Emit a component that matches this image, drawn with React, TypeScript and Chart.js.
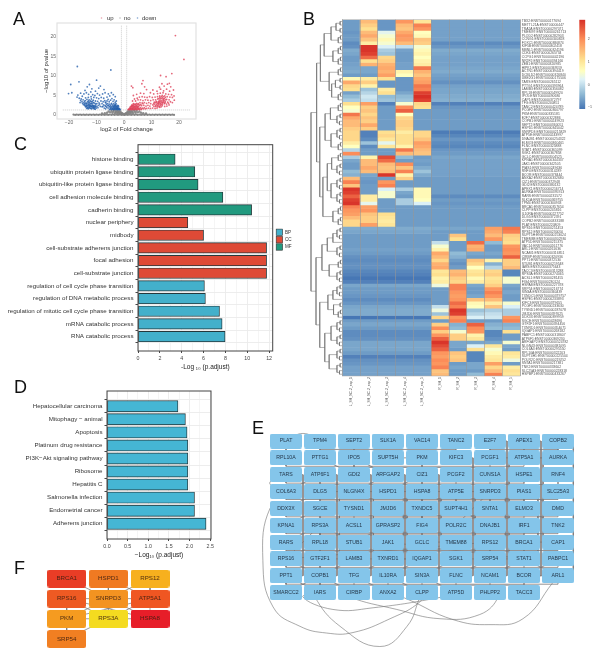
import React, { useEffect, useRef } from "react";
import { Chart, registerables } from "chart.js";

Chart.register(...registerables);

const W = 606;
const H = 669;
const SANS = "'Liberation Sans', Arial, sans-serif";

// ---------- Panel A: volcano ----------
const volcanoDown = [[-17,12.4],[-4.8,11.5],[-10,8.9],[-16.4,8.5],[-19.4,7.8],[-20.2,5.5],[-19,5.7],[-12.6,7.8],[-13.4,7.2],[-8.6,7.4],[-9.2,6.9],[-11.7,6.7],[-14.2,6.3],[-7.3,6.5],[-10.4,6.1],[-16.8,5.1],[-15.8,5.6],[-17.1,4.6],[-16.3,4.3],[-15.2,4.8],[-14.6,5.4],[-13.7,5.7],[-12.9,5.3],[-12.1,5.9],[-11.4,5.2],[-10.6,5],[-9.7,5.5],[-8.9,5.1],[-7.8,5.4],[-6.9,5.7],[-5.7,5.4],[-4.6,5.7],[-3.9,5.2],[-3.2,4.7],[-5.2,4.9],[-6.2,4.6],[-7.4,4.3],[-8.3,4.5],[-9.2,4.2],[-10,4.4],[-11,4.5],[-12,4.7],[-13,4.5],[-14,4.4],[-15.6,4.1],[-14.9,3.9],[-14.1,3.7],[-13.5,4],[-12.7,3.9],[-11.9,4.1],[-11.2,3.8],[-10.4,3.6],[-9.6,3.5],[-15.3,3.4],[-14.6,3.2],[-13.9,3.1],[-13.3,3.4],[-12.6,3.3],[-11.9,3.4],[-11.3,3.1],[-10.6,3],[-9.9,2.9],[-9.1,3.1],[-14.4,2.6],[-13.7,2.5],[-13.1,2.8],[-12.5,2.7],[-12,2.9],[-11.6,2.6],[-11,2.5],[-10.4,2.4],[-9.8,2.3],[-9.2,2.5],[-14,2.1],[-13.4,2],[-12.8,2.2],[-12.3,2.3],[-11.8,2.1],[-11.2,2.1],[-10.7,1.9],[-10.1,1.8],[-9.5,1.9],[-13.6,1.7],[-13,1.6],[-12.4,1.8],[-11.8,1.6],[-11.2,1.7],[-10.5,1.5],[-8.4,3.6],[-8,2.9],[-7.6,3.4],[-7,3.7],[-6.6,3.1],[-6.2,3.6],[-5.8,4],[-5.4,3.4],[-4.9,3.8],[-4.4,4.2],[-4,3.5],[-3.6,3.9],[-3.2,3.3],[-2.8,3.6],[-8.6,2.2],[-8,2.1],[-7.4,2.6],[-6.9,2.4],[-6.4,2.7],[-5.9,2.4],[-5.4,2.8],[-4.9,2.5],[-4.5,3],[-4.1,2.6],[-3.7,2.9],[-3.3,2.6],[-2.9,2.9],[-2.5,2.5],[-7.2,1.8],[-6.7,1.6],[-6.3,2],[-5.8,1.8],[-5.4,2.1],[-5,1.7],[-4.6,2.1],[-4.2,1.8],[-3.9,2.2],[-3.5,1.9],[-3.2,2.2],[-2.9,1.8],[-2.6,2.1],[-2.3,1.9],[-2,2.2],[-5.3,1.4],[-4.9,1.5],[-4.5,1.4],[-4.1,1.5],[-3.8,1.4],[-3.4,1.5],[-3,1.4],[-2.7,1.5],[-2.4,1.4],[-2.1,1.6],[-1.8,1.4],[-1.6,1.6],[-1.4,1.4],
[-15.1,3],[-14.8,2.7],[-14.3,2.9],[-13.8,2.8],[-13.5,2.3],[-13.2,2.5],[-12.9,2.6],[-12.6,2.4],[-12.2,2.5],[-12,2.2],[-11.7,2.3],[-11.4,2.4],[-11.1,2.2],[-10.8,2.3],[-10.5,2.1],[-10.2,2.1],[-13.2,1.8],[-12.8,1.9],[-12.5,2],[-12.1,1.7],[-11.5,1.9],[-11,1.9],[-10.8,1.6],[-13.8,2.2],[-14.2,2.4],[-13.6,3],[-13,3.1],[-12.4,3],[-11.7,3],[-11,3.2],[-10.3,2.8],[-12.9,3.6],[-12.2,3.6],[-11.5,3.5],[-14.4,3.5],[-15.8,3.7],[-16,3.2],
[-5.1,2.2],[-4.8,1.9],[-4.4,1.7],[-4.3,2.3],[-4,1.6],[-3.9,1.9],[-3.7,2.1],[-3.6,1.6],[-3.4,2.3],[-3.3,1.7],[-3.1,1.9],[-3,2.4],[-2.9,1.6],[-2.8,2.1],[-2.7,1.7],[-2.5,1.7],[-2.5,2.2],[-2.3,1.6],[-2.2,1.8],[-2.1,2.4],[-2,1.5],[-1.9,1.8],[-1.7,1.5],[-3.6,2.5],[-3.1,2.7],[-4.7,2.8],[-5.6,2.5],[-6,2.9],[-6.6,2.2],[-7.7,2.2],[-8.9,2.8],[-6.8,3.3]];
const volcanoUp = [[18.7,20.3],[21.8,14.2],[17.4,10.6],[13.3,10.1],[15.3,9.8],[6.9,8.8],[6.5,8],[13.8,8],[16.5,8.1],[15.8,7.9],[2.7,7.4],[3.2,7],[7.5,7.2],[14.6,7.4],[12.9,7.1],[17,7.2],[8.2,6.5],[10.5,6.4],[13.3,6.6],[15.5,6.6],[18,6.4],[16.6,6.1],[14.4,6.2],[12,6.1],[9.6,5.7],[7.2,5.5],[6,5.6],[4.6,5.3],[3.4,5],[10.8,5.4],[12.2,5.5],[13.2,5.6],[14.2,5.7],[15.2,5.4],[16.2,5.3],[17.3,5.2],[18.2,4.9],[17.6,4.5],[16.7,4.6],[15.7,4.7],[14.8,4.9],[13.9,5],[13,4.9],[12.2,4.7],[11.3,4.6],[10.3,4.5],[9.3,4.7],[8.4,4.5],[7.5,4.6],[6.6,4.7],[5.6,4.6],[4.8,4.3],[3.8,4.1],[3.1,3.6],[4.2,3.6],[5.1,3.9],[6,3.9],[6.9,3.7],[7.8,3.9],[8.7,3.8],[9.7,3.7],[10.6,3.9],[11.5,3.9],[12.3,4.1],[13.2,4.3],[14,4.4],[14.7,4.2],[15.5,4],[16.4,3.9],[12.8,3.6],[13.5,3.7],[14.2,3.6],[15,3.4],[11.9,3.3],[12.6,3.1],[13.3,3],[14,3.1],[14.7,2.9],[15.5,2.8],[11.2,2.8],[11.9,2.7],[12.5,2.6],[13.2,2.5],[13.9,2.4],[10.5,2.6],[10.9,2.2],[11.6,2.2],[12.3,2.1],[13,2],[9.7,2.9],[9,3.2],[8.2,3],[7.4,3.2],[6.6,3.1],[5.8,3.2],[5.2,2.9],[4.6,3],[4,2.8],[3.4,2.9],[2.9,2.6],[9.4,2.3],[8.7,2.5],[8,2.3],[7.2,2.5],[6.4,2.4],[5.7,2.5],[5,2.3],[4.4,2.5],[3.8,2.3],[3.2,2.2],[2.6,2.3],[2.2,2],[8.9,1.8],[8.2,1.7],[7.4,1.9],[6.7,1.8],[6,1.9],[5.4,1.8],[4.8,1.9],[4.2,1.8],[3.6,1.9],[3,1.7],[2.5,1.8],[2,1.7],[1.7,1.5],[1.5,1.4],[2,1.4],[2.4,1.45],[2.8,1.4],[3.2,1.45],[3.7,1.4],[4.1,1.45],[4.6,1.4],[5.1,1.45],[5.7,1.4],[6.3,1.45],[12,1.8],[11.3,1.7],[10.4,1.8],[14.8,2.2],[15.6,2.3],[16.4,2.6],[17.6,3.2],[16.9,3.4],[18.3,3.8],
[12.2,2.4],[12.6,2.9],[12.9,3.3],[13.1,2.8],[13.4,3.4],[13.6,2.7],[13.8,3.3],[14,2.8],[14.2,3.9],[14.4,3.3],[14.6,3.7],[14.9,3.1],[13.1,3.9],[12.5,3.4],[12.1,3],[11.7,3.5],[11.4,3.2],[11,3.3],[10.8,2.9],[13.7,4.2],[14.4,4.1],[13,4.6],[13.6,4.7],[14.3,4.7],[15,4.5],[15.2,3.9],[12.8,2.2],[13.5,2.1],[11.5,2.4],[12.7,4.2],[15.9,3.3],[16.2,3],
[2.4,1.6],[2.7,1.7],[2.9,2],[3.1,1.6],[3.3,1.9],[3.4,1.6],[3.6,2.2],[3.8,1.6],[3.9,2],[4.1,1.6],[4.2,2.2],[4.4,2],[4.5,1.6],[4.6,2.3],[4.8,1.6],[5,2],[5.2,1.6],[5.3,2.2],[2.2,1.6],[2.5,2.1],[2.8,2.3],[3,2.5],[3.4,2.5],[3.6,2.7],[4.2,2.7],[4.8,2.7],[5.4,2.7],[6.1,2.7],[6.9,2.9],[5.6,1.6],[6.2,1.6],[7,1.6],[7.7,1.6],[9.6,1.7]];
const volcanoNoBandX = [-18.4,-17.8,-17.2,-16.6,-16,-15.4,-14.8,-14.2,-13.6,-13,-12.4,-11.8,-11.2,-10.6,-10,-9.4,-8.8,-8.2,-7.6,-7,-6.4,-5.8,-5.2,-4.6,-4,-3.4,-2.8,-2.2,-1.6,-1,-0.4,0.2,0.8,1.4,2,2.6,3.2,3.8,4.4,5,5.6,6.2,6.8,7.4,8,8.6,9.2,9.8,10.4,11,11.6,12.2,12.8,13.4,14,14.6,15.2,15.8,16.4,17,17.6,18.2];
const volcanoNoFan = [[-6.2,0.6],[-5.6,0.9],[-5,0.7],[-4.6,1.1],[-4.2,0.6],[-3.9,0.9],[-3.6,1.2],[-3.3,0.5],[-3,0.8],[-2.8,1.1],[-2.5,0.5],[-2.3,0.8],[-2.1,1.1],[-1.9,0.4],[-1.7,0.7],[-1.5,1],[-1.3,0.4],[-1.1,0.7],[-0.9,0.3],[-0.7,0.5],[-0.5,0.2],[-0.3,0.3],[0,0.15],[0.3,0.3],[0.5,0.2],[0.7,0.5],[0.9,0.3],[1.1,0.7],[1.3,0.4],[1.5,1],[1.7,0.7],[1.9,0.4],[2.1,1.1],[2.3,0.8],[2.5,0.5],[2.8,1.1],[3,0.8],[3.3,0.5],[3.6,1.2],[3.9,0.9],[4.2,0.6],[4.6,1.1],[5,0.7],[5.6,0.9],[6.2,0.6],[-8,0.4],[-7,0.45],[7,0.45],[8,0.4]];
const pValueCut = 1.3;
const foldCut = 1;

// ---------- Panel B: heatmap ----------
const heatColumns = ["L_SH_NC.2_exp_1","L_SH_NC.2_exp_2","L_SH_NC.2_exp_3","L_SH_NC.2_exp_4","L_SH_NC.2_exp_5","R_SH_1","R_SH_2","R_SH_3","R_SH_4","R_SH_5"];
const upperLeft = [
[-.7,1.5,-.75,1.9,1],[-.7,1.3,-.75,1.5,2.1],[-.7,1.1,-.75,1.4,1.9],[-.75,1.5,.3,1.7,.6],[-.7,1.7,.5,1.9,.7],[-.7,1.4,.7,1.8,1.4],[-.85,.9,.5,1.5,1.3],[-.8,2.8,.2,0,.5],[-.55,2.8,-.2,-.65,.7],[-.6,2.7,-.3,-.7,.8],
[-.7,2.3,1.2,-.7,.6],[-.7,1.1,1.3,-.7,.8],[-.65,1.6,1.6,-.65,.9],[-.6,-.6,1.7,-.65,2.2],[-.55,-.6,1.6,.8,1.6],[-.7,-.7,1.8,.6,1.4],[.7,.9,1.1,-.75,1.7],[1.7,1.3,-.75,-.75,1.8],[1.2,.8,-.75,-.75,2.2],[1.1,-.3,.9,-.75,2.1],
[-.65,-.1,1.1,-.6,2.7],[-.4,.1,-.4,-.4,2.85],[-.2,0,-.3,-.3,2.7],[1.1,1.8,-.95,.5,1.2],[.6,1.3,-.7,2,1.1],[.5,1.4,-.7,2.4,-.7],[2.2,1.2,-.7,.6,-.7],[1.7,1.4,-.7,1.2,-.7],[1.5,1.3,-.7,1.3,-.7],[1.5,1.7,-.7,1.3,-.7],
[1.3,1.3,-.7,1.2,-.7],[1.2,-.95,1.1,.9,1.2],[1.2,-.95,1.2,1.1,1.2],[1.2,-.85,1,1.1,1.4],[.9,-.3,.3,1.1,1.8],[.6,-.85,1,.8,1.7],[-.1,-.7,-.7,2.2,1.5],[2,-.7,-.7,1.5,1.4],[-.2,.8,2.6,-.4,-.7],[-.6,1.5,2.3,-.7,-.65],
[-.7,1.5,1.5,2,-.7],[-.7,1.7,1.4,1.4,-.55],[-.4,1.5,1.5,2.1,-.3],[-.5,-.6,2.8,.8,-.55],[1.5,-.7,-.7,1.3,-.7],[2.1,-.75,1.9,-.7,-.7],[1.4,-.7,2.1,-.7,-.7],[2.8,-.7,.2,-.2,.7],[2.7,-.7,.5,-.6,.7],[2.4,.9,.5,-.7,.7],
[2.7,.9,-.7,-.2,.6],[2.8,.3,-.7,-.2,.2],[2.1,1.8,-.7,-.7,-.7],[1.9,1.9,-.7,-.7,-.7],[1.8,1.4,1.1,-.7,-.7],[1.5,1.3,1,-.7,-.7],[1.2,1.3,.9,-.7,-.7],[1.2,1.8,1,-.7,-.7]];
const upperBase = [-.65,-.65,-.65,-.65,-.65,-.65,-.85,-.75,-.55,-.6,-.65,-.65,-.65,-.6,-.55,-.65,-.7,-.8,-.65,-.6,-.6,-.55,-.5,-.95,-.75,-.7,-.7,-.7,-.7,-.7,-.7,-1,-.9,-.75,-.85,-.9,-.75,-.7,-.6,-.65,-.65,-.65,-.65,-.65,-.7,-.7,-.7,-.7,-.7,-.85,-.7,-.75,-.7,-.7,-.7,-.7,-.7,-.7];
const lowerBase = [-.55,-.6,-.7,-.7,-.7,-.7,-.65,-.7,-.8,-.85,-.8,-.8,-.9,-.95,-1.05,-.95,-.6,-.7,-.7,-.75,-.85,-.75,-.6,-.55,-.55,-1.05,-.7,-.6,-.7,-.85,-.85,-.8,-.6,-.6,-.6,-.7,-.95,-.8,-.75,-.65,-.65,-.65].slice(0,42);
const lowerRight = [
[-.6,-.6,-.6,1.8,2.2],[-.7,-.7,-.7,1.7,2.1],[-.7,1.4,-.7,1.5,1.3],[-.7,1.1,-.7,1.9,1.2],[0,-.7,2.3,-.4,1.1],[.5,-.7,1.6,-.7,1.9],[.8,-.7,1.7,-.7,2],[1.7,-.4,-.6,-.6,1.9],[1.5,-.5,-.7,-.7,2.4],[1.2,-.7,1.4,.8,1.3],
[1.6,-.8,1.2,-.5,1.3],[1.7,-.7,.6,-.1,1.5],[1,1.5,1,1.2,-.9],[1.1,1.6,1.1,1.3,-.9],[.8,1.3,.7,1,.5],[.9,1.2,.9,1.1,.5],[.4,2.1,-.6,1.3,-.6],[-.7,2.1,-.7,1.9,-.7],[-.7,1.9,-.7,2.1,-.6],[-.7,1.8,-.6,1.9,-.7],
[-.7,1.9,1.4,1.5,-.7],[-.7,2.3,.7,.9,.5],[0,2.1,.6,1.4,.2],[.4,2.8,-.3,-.2,-.2],[-.3,2.7,-.1,0,-.2],[1.2,1.9,.2,.1,1.9],[-.7,2.1,-.7,-.7,2.1],[1.3,-.5,2.4,-.5,-.5],[2,-.4,2,-.4,-.4],[1.3,.5,1.9,-.9,1.1],
[1.9,1.3,.8,-.9,-.7],[2.4,1.3,1,-.8,-.7],[2.8,-.6,-.6,-.6,.5],[2.6,-.6,.2,1,-.6],[2.4,-.7,1.1,.5,-.7],[1.9,1.4,-.9,.7,1],[1.8,1.3,-.9,.9,.9],[2,1.4,-.9,1,.4],[1.9,-.7,-.6,1.8,-.7],[2.1,-.6,-.6,1.2,.9],
[1.4,-.7,-.7,1.5,1.1],[1.5,-.7,-.4,2.1,1]];
const rowLabels = ["TBX2:ENST00000177694","METTL21A:ENST00000447","TRA2A:ENST00000297071","TMEM97:ENST00000261713","PLOD2:ENST00000282903","CCNG1:ENST00000340828","FOXC1:ENST00000380874","KIF5B:ENST00000302418","MBNL1:ENST00000324196","CDK6:ENST00000265734","CCPG1:ENST00000442196","NR2F2:ENST00000394166","ZEB1:ENST00000320985","HIPK1:ENST00000369559","ACTN1:ENST00000394419","DCBLD2:ENST00000326840","UBE2G1:ENST00000175506","TARS:ENST00000265112","PTTG1:ENST00000393964","LAMB3:ENST00000356082","RPL18:ENST00000549920","IPO5:ENST00000490680","CAP1:ENST00000372797","TFG:ENST00000240851","TANC2:ENST00000424789","PCGF2:ENST00000360797","PKM:ENST00000335181","E2F7:ENST00000322886","COPB1:ENST00000249923","SEPT2:ENST00000360051","HSPD1:ENST00000345042","SNRPD3:ENST00000215829","ATP5E:ENST00000243997","DNAJB1:ENST00000254322","ELMO3:ENST00000360461","FLNC:ENST00000325888","STAT1:ENST00000361099","SGK1:ENST00000367858","GCLC:ENST00000504525","KPNA1:ENST00000344337","JAK1:ENST00000342505","PIAS1:ENST00000249636","RNF4:ENST00000314289","BCOR:ENST00000378444","ANXA2:ENST00000332680","CIZ1:ENST00000372948","GDI2:ENST00000380132","APEX1:ENST00000216714","AURKA:ENST00000395913","RARS:ENST00000231572","SLK1A:ENST00000369755","TPM4:ENST00000300933","BRCA1:ENST00000357654","CLPP:ENST00000245816","IL10RA:ENST00000227752","DLG5:ENST00000372391","COPB2:ENST00000333188","PLAT:ENST00000220809","RPS16:ENST00000251453","RPS12:ENST00000230050","SUPT5H:ENST00000253024","TMEM88:ENST00000302930","ATP5D:ENST00000215375","VAC14:ENST00000261776","ARL1:ENST00000261636","NCAM1:ENST00000316851","CIRBP:ENST00000320936","PPT1:ENST00000372530","STUB1:ENST00000219548","IARS:ENST00000375643","TACC3:ENST00000313288","RPS3A:ENST00000274065","ACSL1:ENST00000281455","FIG4:ENST00000230124","HSPA8:ENST00000227378","SRP54:ENST00000216774","SIN3A:ENST00000360439","TXNDC5:ENST00000379757","HSPE1:ENST00000233893","KIFC3:ENST00000379655","PCGF1:ENST00000233630","TYSND1:ENST00000287078","JMJD6:ENST00000397625","DDX3X:ENST00000399959","SGCE:ENST00000428696","GTF2F1:ENST00000394456","TXNRD1:ENST00000354071","IQGAP1:ENST00000268182","PABPC1:ENST00000318607","ATP6F1:ENST00000369230","ARFGAP2:ENST00000524782","NLGN4X:ENST00000381095","COL6A3:ENST00000295550","RPL10A:ENST00000322203","SUPT4H1:ENST00000225504","POLR2C:ENST00000219252","SNTA1:ENST00000217381","TNK2:ENST00000333602","SLC25A3:ENST00000228318","HSPBP1:ENST00000433267"];
const dendrogramPair = [.07, 1, 1];
const dendrogramTriple = [.13, [.06, 1, 1], 1];
const dendrogramQuad = [.17, [.07, 1, 1], [.09, 1, 1]];
const P = dendrogramPair, T = dendrogramTriple, Q = dendrogramQuad;
const dendrogramTree = [1,
  [.82,
    [.7, [.58, [.36, [.2, P, P], T], [.3, T, T]], [.42, T, [.34, [.22, P, P], T]]],
    [.72, [.55, [.38, T, Q], [.36, Q, T]], [.62, [.48, [.34, T, Q], [.36, Q, Q]], [.3, T, T]]]],
  [.84,
    [.65, [.48, [.3, Q, 1], Q], [.42, T, Q]],
    [.72, [.46, [.3, Q, 1], [.28, P, T]], [.56, [.36, Q, Q], [.42, Q, Q]]]]];
const heatScaleMin = -1.07;
const heatScaleMax = 2.85;

// ---------- Panel C ----------
const goTerms = ["histone binding","ubiquitin protein ligase binding","ubiquitin-like protein ligase binding","cell adhesion molecule binding","cadherin binding","nuclear periphery","midbody","cell-substrate adherens junction","focal adhesion","cell-substrate junction","regulation of cell cycle phase transition","regulation of DNA metabolic process","regulation of mitotic cell cycle phase transition","mRNA catabolic process","RNA catabolic process"];
const goMF = [3.4, 5.2, 5.5, 7.77, 10.4];
const goCC = [4.56, 6.0, 11.77, 11.77, 11.77];
const goBP = [6.08, 6.17, 7.46, 7.7, 7.97];

// ---------- Panel D ----------
const keggTerms = ["Hepatocellular carcinoma","Mitophagy \u2212 animal","Apoptosis","Platinum drug resistance","PI3K\u2212Akt signaling pathway","Ribosome","Hepatitis C","Salmonella infection","Endometrial cancer","Adherens junction"];
const keggValues = [1.72, 1.9, 1.94, 1.96, 1.96, 1.96, 1.96, 2.12, 2.12, 2.4];

// ---------- Panel E ----------
const netRows = [
["PLAT","TPM4","SEPT2","SLK1A","VAC14","TANC2","E2F7","APEX1","COPB2"],
["RPL10A","PTTG1","IPO5","SUPT5H","PKM","KIFC3","PCGF1","ATP5A1","AURKA"],
["TARS","ATP6F1","GDI2","ARFGAP2","CIZ1","PCGF2","CUNS1A","HSPE1","RNF4"],
["COL6A3","DLG5","NLGN4X","HSPD1","HSPA8","ATP5E","SNRPD3","PIAS1","SLC25A3"],
["DDX3X","SGCE","TYSND1","JMJD6","TXNDC5","SUPT4H1","SNTA1","ELMO3","DMD"],
["KPNA1","RPS3A","ACSL1","GPRASP2","FIG4","POLR2C","DNAJB1","IRF1","TNK2"],
["RARS","RPL18","STUB1","JAK1","GCLC","TMEM88","RPS12","BRCA1","CAP1"],
["RPS16","GTF2F1","LAMB3","TXNRD1","IQGAP1","SGK1","SRP54","STAT1","PABPC1"],
["PPT1","COPB1","TFG","IL10RA","SIN3A","FLNC","NCAM1","BCOR","ARL1"],
["SMARCC2","IARS","CIRBP","ANXA2","CLPP","ATP5D","PHLPP2","TACC3"]];
const netRowGapEdges = [["TPM4","KIFC3",0],["E2F7","COPB2",0],["RPL10A","ATP5A1",0],["IPO5","PCGF1",.07],["TARS","HSPE1",0],["ATP6F1","RNF4",.08],["COL6A3","SLC25A3",-.03],["DLG5","PIAS1",.06],["NLGN4X","ELMO3",-.09],["DDX3X","DMD",0],["SGCE","ELMO3",.08],["TYSND1","SNTA1",-.08],["KPNA1","TNK2",0],["RPS3A","IRF1",.08],["ACSL1","DNAJB1",-.08],["RARS","CAP1",0],["RPL18","BRCA1",.07],["STUB1","SRP54",-.07],["RPS16","PABPC1",0],["GTF2F1","STAT1",.08],["PPT1","ARL1",0],["COPB1","BCOR",.06]];
const netColGapEdges = [["TARS","PPT1",0],["ATP6F1","COPB1",0],["DLG5","GTF2F1",.07],["GDI2","TFG",0],["NLGN4X","LAMB3",.07],["ARFGAP2","IL10RA",0],["HSPD1","TXNRD1",.06],["JMJD6","IQGAP1",-.05],["CIZ1","SIN3A",0],["HSPA8","GCLC",.06],["KIFC3","FLNC",0],["ATP5E","SGK1",.06],["E2F7","NCAM1",0],["PCGF1","SRP54",.06],["SNRPD3","RPS12",-.05],["APEX1","BCOR",0],["ATP5A1","BRCA1",.06],["COPB2","ARL1",-.05],["PIAS1","STAT1",-.09]];
const netDirectEdges = [["HSPD1","TXNDC5"],["JMJD6","HSPA8"],["ATP5E","SUPT4H1"],["SNRPD3","SNTA1"],["RPS3A","RPL18"],["RPS3A","RPS16"],["RPS12","SRP54"],["RPS12","RPS16"],["RPS16","RPL18"],["HSPA8","FIG4"],["HSPA8","GCLC"],["HSPA8","DNAJB1"],["POLR2C","SNRPD3"],["BRCA1","STAT1"],["BRCA1","IRF1"],["JAK1","STAT1"],["PLAT","RPL10A"],["TPM4","PTTG1"],["SEPT2","IPO5"],["APEX1","ATP5A1"],["COPB2","AURKA"],["AURKA","ATP5A1"],["SUPT5H","PKM"],["PKM","HSPA8"],["IPO5","ARFGAP2"],["PTTG1","GDI2"],["E2F7","PCGF1"],["SMARCC2","PPT1"],["SMARCC2","COPB1"],["IARS","COPB1"],["IARS","PPT1"],["CIRBP","TFG"],["CIRBP","COPB1"],["ANXA2","IL10RA"],["ANXA2","TFG"],["CLPP","SIN3A"],["CLPP","IL10RA"],["ATP5D","FLNC"],["ATP5D","SIN3A"],["PHLPP2","NCAM1"],["TACC3","BCOR"],["BCOR","ARL1"],["ARL1","STAT1"],["RPS16","COPB1"],["RPL18","GTF2F1"],["LAMB3","COPB1"],["TXNRD1","TFG"],["IQGAP1","IL10RA"],["SGK1","SIN3A"],["SRP54","FLNC"],["STAT1","NCAM1"],["PABPC1","BCOR"],["KPNA1","SGCE"],["ACSL1","TYSND1"],["FIG4","JMJD6"],["DNAJB1","SUPT4H1"],["IRF1","SNTA1"],["TNK2","ELMO3"],["DMD","PIAS1"],["SLC25A3","RNF4"],["PIAS1","HSPE1"],["SNRPD3","CUNS1A"],["ATP5E","PCGF2"],["HSPD1","CIZ1"],["NLGN4X","ARFGAP2"],["COL6A3","ATP6F1"],["DDX3X","DLG5"],["RARS","RPS3A"],["STUB1","RPS3A"],["GPRASP2","STUB1"]];
const netArcs = [
  [[0,4],[-.47,4],[-.68,7.1],[-.38,9.85],[.41,11],[1.2,11.4],[1.97,11.37],[3.06,10.55],[3.94,9.55],[4,9]],
  [[1,9],[.85,9.26],[1.59,11],[2.76,12.2],[3.56,11],[3.94,9.26],[4,9]],
  [[2,9],[1.88,9.26],[3.26,10],[4.53,10.55],[5.7,10.3],[6.24,9.26],[6,9]],
  [[3,9],[3.56,9.38],[4.91,10.6],[6,10.9],[6.97,10.55],[7.85,8.4],[8,8]],
  [[1,9],[.5,9.26],[1.38,10],[2.56,9.9],[4.6,9.26],[5,9]],
  [[0,0],[.5,-.45],[1,0]],
  [[0,2],[-.48,2.5],[0,3]]];

// ---------- Panel F ----------
const hubNames = ["BRCA1","HSPD1","RPS12","RPS16","SNRPD3","ATP5A1","PKM","RPS3A","HSPA8","SRP54"];
const hubCols = [0,1,2,0,1,2,0,1,2,0];
const hubRows = [0,0,0,1,1,1,2,2,2,3];
const hubColors = ["#E93D26","#F07A22","#F7B01E","#EE5A23","#F39321","#EF5622","#F59B20","#F4DB20","#E71E29","#F17F22"];
const hubEdges = [["RPS16","SNRPD3"],["ATP5A1","SNRPD3"],["RPS12","SNRPD3"],["HSPD1","ATP5A1"],["PKM","SNRPD3"],["RPS3A","SNRPD3"],["HSPA8","SNRPD3"],["RPS16","PKM"],["RPS3A","SRP54"],["PKM","SRP54"],["RPS3A","RPS16"],["HSPA8","ATP5A1"],["HSPA8","RPS3A"],["PKM","ATP5A1"],["RPS12","ATP5A1"],["HSPD1","SNRPD3"],["RPS3A","ATP5A1"],["HSPA8","RPS16"],["PKM","RPS3A"],["BRCA1","SNRPD3"]];

// ---------- helpers ----------
const box = (x0: number, y0: number, x1: number, y1: number, leftW = 0, bottomH = 0, rightW = 0) => ({
  padding: { left: x0 - leftW, top: y0, right: W - x1 - rightW, bottom: H - y1 - bottomH },
  fitY: (s: any) => { s.width = leftW; },
  fitX: (s: any) => { s.height = bottomH; },
  fitR: (s: any) => { s.width = rightW; },
});
const font = (size: number, extra: any = {}) => ({ family: SANS, size, lineHeight: 1.2, ...extra });
const base = (layout: any, scales: any, extra: any = {}) => ({
  responsive: false,
  animation: false,
  events: [],
  layout: { padding: layout.padding },
  plugins: { legend: { display: false }, tooltip: { enabled: false } },
  scales,
  ...extra,
});
const framePlugin = (id: string, color: string, width: number) => ({
  id,
  afterDatasetsDraw(chart: any) {
    const { ctx, chartArea: a } = chart;
    ctx.save();
    ctx.strokeStyle = color;
    ctx.lineWidth = width;
    ctx.strokeRect(a.left, a.top, a.right - a.left, a.bottom - a.top);
    ctx.restore();
  },
});
const legendPlugin = (id: string, items: any[], size: number, color: string) => ({
  id,
  afterDraw(chart: any) {
    const { ctx } = chart;
    ctx.save();
    ctx.font = `${size}px ${SANS}`;
    ctx.textBaseline = "middle";
    ctx.textAlign = "left";
    for (const it of items) {
      if (it.box) {
        ctx.fillStyle = it.color;
        ctx.strokeStyle = "#333";
        ctx.lineWidth = 0.6;
        ctx.fillRect(it.kx, it.y - it.box / 2, it.box, it.box);
        ctx.strokeRect(it.kx, it.y - it.box / 2, it.box, it.box);
      } else {
        ctx.fillStyle = it.color;
        ctx.beginPath();
        ctx.arc(it.kx, it.y, 0.8, 0, Math.PI * 2);
        ctx.fill();
      }
      ctx.fillStyle = color;
      ctx.fillText(it.label, it.tx, it.y);
    }
    ctx.restore();
  },
});
const roundedNode = (w: number, h: number, r: number, color: string) => {
  const c = document.createElement("canvas");
  c.width = w;
  c.height = h;
  const g = c.getContext("2d")!;
  g.fillStyle = color;
  g.beginPath();
  g.roundRect(0, 0, w, h, r);
  g.fill();
  return c;
};
const nodeLabelPlugin = (id: string, size: number, color: string) => ({
  id,
  afterDatasetsDraw(chart: any) {
    const { ctx } = chart;
    chart.data.datasets.forEach((d: any, i: number) => {
      if (!d.nodeLabels) return;
      const meta = chart.getDatasetMeta(i);
      ctx.save();
      ctx.font = `${size}px ${SANS}`;
      ctx.fillStyle = color;
      ctx.textAlign = "center";
      ctx.textBaseline = "middle";
      meta.data.forEach((el: any, k: number) => ctx.fillText(d.nodeLabels[k], el.x, el.y));
      ctx.restore();
    });
  },
});
const heatStops = ["#4575B4", "#8FB9D4", "#E0F3F8", "#FFFFBF", "#FEE090", "#FC8D59", "#D73027"];
const heatStopValues = [-1.07, -0.417, 0.237, 0.6, 1.1, 2.0, 2.85];
const heatColor = (v: number) => {
  const c = Math.min(heatScaleMax, Math.max(heatScaleMin, v));
  let i = 0;
  while (i < 5 && c > heatStopValues[i + 1]) i += 1;
  const f = (c - heatStopValues[i]) / (heatStopValues[i + 1] - heatStopValues[i]);
  const hex = (s: string, o: number) => parseInt(s.slice(o, o + 2), 16);
  const mix = (o: number) => Math.round(hex(heatStops[i], o) * (1 - f) + hex(heatStops[i + 1], o) * f);
  return `rgb(${mix(1)},${mix(3)},${mix(5)})`;
};
const pts = (list: number[][]) => list.map(([x, y]) => ({ x, y }));
const minus = (v: number) => (v < 0 ? "\u2212" + Math.abs(v) : String(v));
const GAP = { x: null, y: null };

// ---------- chart configs ----------
const volcanoConfig = () => {
  const b = box(57, 23, 196, 119, 14.6, 13.6);
  const lineDs = (data: any[]) => ({ data, showLine: true, pointRadius: 0, borderColor: "#b5b5b5", borderWidth: 0.7, borderDash: [1, 1], order: 5 });
  const dot = (data: any[], c: string, order: number, r = 0.9) => ({ data, pointRadius: r, pointBorderWidth: 0, backgroundColor: c, borderWidth: 0, showLine: false, order });
  return {
    type: "scatter",
    data: { datasets: [
      dot(pts(volcanoDown), "rgba(38,96,172,0.8)", 1),
      dot(pts(volcanoUp), "rgba(222,66,90,0.8)", 1),
      dot(pts(volcanoNoFan), "rgba(130,130,130,0.9)", 2, 1.2),
      dot(volcanoNoBandX.map((x, i) => ({ x, y: i % 2 ? 0.05 : 0.12 })), "rgba(120,120,120,0.9)", 2, 1.1),
      lineDs([{ x: -22.3, y: pValueCut }, { x: 24, y: pValueCut }]),
      lineDs([{ x: -foldCut, y: 0.1 }, { x: -foldCut, y: 23 }]),
      lineDs([{ x: foldCut, y: 0.1 }, { x: foldCut, y: 23 }]),
    ] },
    options: base(b, {
      x: { type: "linear", min: -24.4, max: 26.2, afterFit: b.fitX,
        grid: { display: false, drawTicks: false }, border: { display: false },
        ticks: { stepSize: 10, includeBounds: false, font: font(5), color: "#666", padding: 1, callback: minus, maxRotation: 0 },
        title: { display: true, text: "log2 of Fold change", font: font(6), color: "#333", padding: 0 } },
      y: { type: "linear", min: -1, max: 23.5, afterFit: b.fitY,
        grid: { display: false, drawTicks: false }, border: { display: false },
        ticks: { stepSize: 5, includeBounds: false, font: font(5), color: "#666", padding: 1 },
        title: { display: true, text: "\u2212log10 of pvalue", font: font(6), color: "#333", padding: 0 } },
    }),
    plugins: [framePlugin("aFrame", "#e2e2e2", 1.2), legendPlugin("aLegend", [
      { label: "up", color: "#e8a0ac", kx: 101.5, tx: 107, y: 18 },
      { label: "no", color: "#bbb", kx: 120, tx: 124, y: 18 },
      { label: "down", color: "#7ea2cf", kx: 137.5, tx: 142, y: 18 },
    ], 6, "#333")],
  };
};

const dendrogramConfig = () => {
  const b = box(311, 19.7, 342.3, 376);
  const segs: any[] = [];
  let row = 0;
  const walk = (node: any): { h: number; y: number } => {
    if (node === 1) { row += 1; return { h: 0, y: row - 0.5 }; }
    const [h, ...kids] = node;
    const cs = kids.map(walk);
    cs.forEach((c: any) => segs.push({ x: c.h, y: c.y }, { x: h, y: c.y }, GAP));
    segs.push({ x: h, y: cs[0].y }, { x: h, y: cs[cs.length - 1].y }, GAP);
    return { h, y: (cs[0].y + cs[cs.length - 1].y) / 2 };
  };
  walk(dendrogramTree);
  return {
    type: "scatter",
    data: { datasets: [{ data: segs, showLine: true, pointRadius: 0, borderColor: "#666", borderWidth: 0.5, clip: false }] },
    options: base(b, {
      x: { type: "linear", min: 0, max: 1, reverse: true, display: false },
      y: { type: "linear", min: 0, max: 100, reverse: true, display: false },
    }),
  };
};

const heatmapConfig = () => {
  const b = box(342.3, 19.7, 520.3, 376, 0, 34, 80);
  const rows = [
    ...upperLeft.map((l, i) => [...l, ...Array(5).fill(upperBase[i])]),
    ...lowerRight.map((r, i) => [...Array(5).fill(lowerBase[i]), ...r]),
  ];
  return {
    type: "bar",
    data: { labels: heatColumns, datasets: rows.map((vals, r) => ({
      data: vals.map(() => [r, r + 1]),
      backgroundColor: vals.map(heatColor),
      grouped: false, barPercentage: 1, categoryPercentage: 1, borderWidth: 0, inflateAmount: 0.3, yAxisID: "y", xAxisID: "x",
    })) },
    options: base(b, {
      x: { type: "category", afterFit: b.fitX, offset: true,
        grid: { display: true, offset: true, color: "#969696", lineWidth: 0.6, z: 1, drawTicks: false }, border: { display: false },
        ticks: { font: font(3.4), color: "#555", minRotation: 90, maxRotation: 90, padding: 1, autoSkip: false } },
      y: { type: "linear", min: 0, max: 100, reverse: true, display: false },
      rowAxis: { type: "category", axis: "y", position: "right", labels: rowLabels, offset: true, afterFit: b.fitR,
        grid: { display: false, offset: true, drawTicks: false }, border: { display: false },
        ticks: { font: font(3.4), color: "#555", padding: 1.4, autoSkip: false } },
    }),
    plugins: [framePlugin("bFrame", "#a8a8a8", 0.5)],
  };
};

const heatLegendConfig = () => {
  const b = box(579.3, 19.7, 585.3, 109, 0, 0, 15);
  return {
    type: "bar",
    data: { labels: [""], datasets: [{
      data: [[heatScaleMin, heatScaleMax]],
      barPercentage: 1, categoryPercentage: 1, borderWidth: 0,
      backgroundColor: (c: any) => {
        const area = c.chart.chartArea;
        if (!area) return heatStops[0];
        const g = c.chart.ctx.createLinearGradient(0, area.bottom, 0, area.top);
        heatStops.forEach((s, i) => g.addColorStop((heatStopValues[i] - heatScaleMin) / (heatScaleMax - heatScaleMin), s));
        return g;
      },
    }] },
    options: base(b, {
      x: { display: false },
      y: { type: "linear", position: "right", min: heatScaleMin, max: heatScaleMax, afterFit: b.fitR,
        grid: { display: false, drawTicks: false }, border: { display: false },
        ticks: { stepSize: 1, includeBounds: false, font: font(3.6), color: "#555", padding: 2.5, callback: minus } },
    }),
  };
};

const hbarScales = (b: any, labels: string[], vMax: number, xStep: number, xMajor: number, fmt: (v: number) => string, titleText: string, tickFont: number) => ({
  x: { type: "linear", min: 0, max: vMax, afterFit: b.fitX,
    grid: { color: "#ebebeb", lineWidth: (c: any) => (Math.abs(c.tick.value / xMajor - Math.round(c.tick.value / xMajor)) < 1e-6 ? 0.9 : 0.5), tickLength: 2,
      tickColor: (c: any) => (Math.abs(c.tick.value / xMajor - Math.round(c.tick.value / xMajor)) < 1e-6 ? "#333" : "rgba(0,0,0,0)") },
    border: { display: false },
    ticks: { stepSize: xStep, includeBounds: false, font: font(5.3), color: "#444", padding: 2, maxRotation: 0, autoSkip: false,
      callback: (v: number) => (Math.abs(v / xMajor - Math.round(v / xMajor)) < 1e-6 ? fmt(v) : "") },
    title: { display: true, text: titleText, font: font(6.5), color: "#222", padding: 0 } },
  y: { type: "linear", min: -0.6, max: labels.length - 0.4, reverse: true, afterFit: b.fitY,
    grid: { color: "#ebebeb", lineWidth: 0.9, tickLength: 2.5, tickColor: "#333" },
    border: { display: false },
    ticks: { stepSize: 1, includeBounds: false, autoSkip: false, font: font(tickFont), color: "#333", padding: 2,
      callback: (v: number) => labels[v] ?? "" } },
});

const goConfig = () => {
  const b = box(138, 144.7, 272.7, 351, 136, 20.2);
  const ds = (label: string, vals: number[], start: number, color: string) => ({
    label, data: vals.map((v, i) => ({ x: v, y: start + i })),
    backgroundColor: color, borderColor: "#25383c", borderWidth: 0.9, barThickness: 10.4, grouped: false, borderSkipped: false,
  });
  return {
    type: "bar",
    data: { datasets: [ds("MF", goMF, 0, "#219A7F"), ds("CC", goCC, 5, "#DE4A36"), ds("BP", goBP, 10, "#43B0CB")] },
    options: base(b, hbarScales(b, goTerms, 12.33, 1, 2, (v) => String(v), "-Log \u2081\u2080 (p.adjust)", 6.2), { indexAxis: "y" }),
    plugins: [framePlugin("cFrame", "#444", 1), legendPlugin("cLegend", [
      { label: "BP", color: "#43B0CB", kx: 276.2, tx: 285, y: 232.3, box: 6.4 },
      { label: "CC", color: "#DE4A36", kx: 276.2, tx: 285, y: 239.7, box: 6.4 },
      { label: "MF", color: "#219A7F", kx: 276.2, tx: 285, y: 247, box: 6.4 },
    ], 4.6, "#333")],
  };
};

const keggConfig = () => {
  const b = box(107, 391, 211, 539, 100, 19.9);
  return {
    type: "bar",
    data: { datasets: [{ label: "KEGG", data: keggValues.map((v, i) => ({ x: v, y: i })),
      backgroundColor: "#45B6D4", borderColor: "#25383c", borderWidth: 0.9, barThickness: 11.2, borderSkipped: false }] },
    options: base(b, hbarScales(b, keggTerms, 2.52, 0.25, 0.5, (v) => v.toFixed(1), "\u2212Log\u2081\u2080 (p.adjust)", 6.2), { indexAxis: "y" }),
    plugins: [framePlugin("dFrame", "#444", 1)],
  };
};

const networkConfig = () => {
  const b = box(252, 424.17, 592, 664);
  const pos: Record<string, { x: number; y: number }> = {};
  netRows.forEach((row, r) => row.forEach((n, c) => { pos[n] = { x: c, y: r }; }));
  const mesh: any[] = [];
  netRowGapEdges.forEach(([a, z, off]: any) => {
    const A = pos[a], Z = pos[z], g = A.y + 0.5 + off;
    mesh.push(A, { x: A.x, y: g }, { x: Z.x, y: g }, Z, GAP);
  });
  netColGapEdges.forEach(([a, z, off]: any) => {
    const A = pos[a], Z = pos[z], g = A.x + 0.5 + off;
    mesh.push(A, { x: g, y: A.y }, { x: g, y: Z.y }, Z, GAP);
  });
  netDirectEdges.forEach(([a, z]) => mesh.push(pos[a], pos[z], GAP));
  const nodes = netRows.flat().map((n) => pos[n]);
  const img = roundedNode(32, 15, 2, "#84C5EA");
  return {
    type: "scatter",
    data: { datasets: [
      { data: nodes, nodeLabels: netRows.flat(), pointStyle: img, pointRadius: 8, showLine: false, order: 0, clip: false },
      { data: mesh, showLine: true, pointRadius: 0, borderColor: "rgba(125,120,120,0.9)", borderWidth: 0.9, order: 1, clip: false },
      ...netArcs.map((a) => ({ data: pts(a), showLine: true, tension: 0.45, pointRadius: 0, borderColor: "rgba(120,120,120,0.9)", borderWidth: 0.7, order: 1, clip: false })),
    ] },
    options: base(b, {
      x: { type: "linear", min: -1, max: 9, display: false },
      y: { type: "linear", min: -1, max: 13, reverse: true, display: false },
    }),
    plugins: [nodeLabelPlugin("eLabels", 5.2, "#24374a")],
  };
};

const hubConfig = () => {
  const b = box(25.05, 558.4, 191.65, 662.9);
  const at: Record<string, { x: number; y: number }> = {};
  hubNames.forEach((n, i) => { at[n] = { x: hubCols[i], y: hubRows[i] }; });
  const lines: any[] = [];
  hubEdges.forEach(([a, z]) => lines.push(at[a], at[z], GAP));
  return {
    type: "scatter",
    data: { datasets: [
      { data: hubNames.map((n) => at[n]), nodeLabels: hubNames, pointStyle: hubColors.map((c) => roundedNode(39, 18, 2.5, c)), pointRadius: 9, showLine: false, order: 0, clip: false },
      { data: lines, showLine: true, pointRadius: 0, borderColor: "rgba(120,120,120,0.9)", borderWidth: 0.8, order: 1, clip: false },
    ] },
    options: base(b, {
      x: { type: "linear", min: -1, max: 3, display: false },
      y: { type: "linear", min: -1, max: 4, reverse: true, display: false },
    }),
    plugins: [nodeLabelPlugin("fLabels", 6.2, "rgba(60,30,15,0.9)")],
  };
};

const configs = [volcanoConfig, dendrogramConfig, heatmapConfig, heatLegendConfig, goConfig, keggConfig, networkConfig, hubConfig];
const panelLetters = [
  { t: "A", x: 13, y: 9.5 },
  { t: "B", x: 303, y: 9.5 },
  { t: "C", x: 14, y: 135 },
  { t: "D", x: 14, y: 377.7 },
  { t: "E", x: 252, y: 419.4 },
  { t: "F", x: 14, y: 559 },
];

export default function App() {
  const refs = useRef<(HTMLCanvasElement | null)[]>([]);
  useEffect(() => {
    const charts = configs.map((make, i) => new Chart(refs.current[i] as any, make() as any));
    return () => charts.forEach((c) => c.destroy());
  }, []);
  return (
    <div style={{ position: "absolute", left: 0, top: 0, width: W, height: H, background: "#fff", overflow: "hidden", filter: "blur(0.4px)" }}>
      {configs.map((_, i) => (
        <canvas key={i} ref={(el) => { refs.current[i] = el; }} width={W} height={H}
          style={{ position: "absolute", left: 0, top: 0, width: W, height: H }} />
      ))}
      {panelLetters.map((l) => (
        <div key={l.t} style={{ position: "absolute", left: l.x, top: l.y, font: `18px/18px ${SANS}`, color: "#111" }}>{l.t}</div>
      ))}
    </div>
  );
}
